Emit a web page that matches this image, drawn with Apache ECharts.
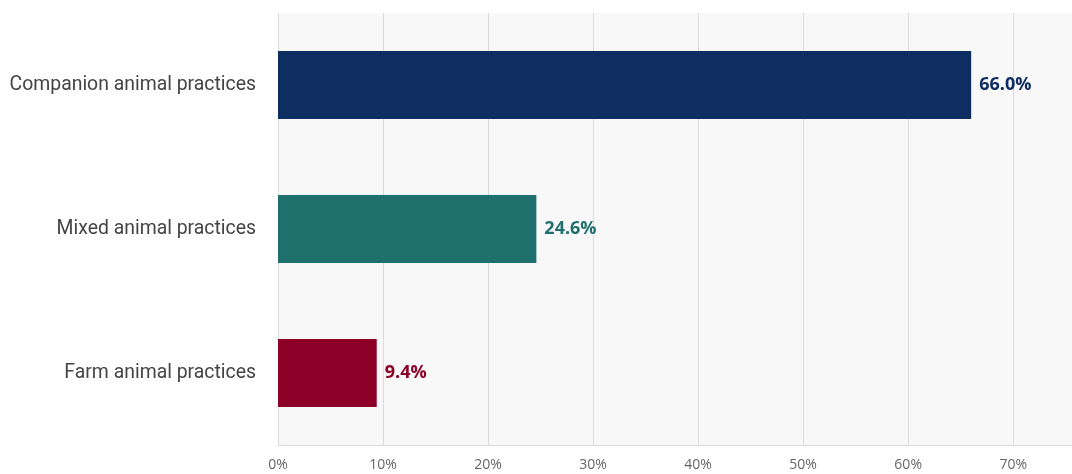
<!DOCTYPE html>
<html><head><meta charset="utf-8">
<script src="https://cdn.jsdelivr.net/npm/echarts@6/dist/echarts.min.js"></script>
<style>html,body{margin:0;padding:0;background:#fff;}#c{width:1072px;height:474px;}</style>
</head><body><div id="c"></div>
<script>
const categories = ['Companion animal practices', 'Mixed animal practices', 'Farm animal practices'];
const values = [66.0, 24.6, 9.4];
const barColors = ['#0e2d61', '#1f6f6d', '#8d0028'];
const tickValues = [0, 10, 20, 30, 40, 50, 60, 70];

const chart = echarts.init(document.getElementById('c'));
chart.setOption({
  animation: false,
  grid: { left: 278, right: 0, top: 13, bottom: 29, show: true, backgroundColor: '#f8f8f8', borderWidth: 0 },
  xAxis: {
    type: 'value', min: 0, max: 75.6, interval: 10,
    axisLine: { show: true, lineStyle: { color: '#d5d8e0', width: 1 } },
    axisTick: { show: false },
    splitLine: { show: true, lineStyle: { color: '#dcdcdc', width: 1 } },
    axisLabel: {
      color: '#666', fontSize: 14, fontFamily: 'Open Sans', margin: 13,
      showMaxLabel: false,
      formatter: v => tickValues.includes(v) ? v + '%' : ''
    }
  },
  yAxis: {
    type: 'category', data: categories, inverse: true,
    axisLine: { show: false }, axisTick: { show: false },
    axisLabel: { color: '#444', fontSize: 19.4, fontFamily: 'Roboto', margin: 22 }
  },
  series: [{
    type: 'bar', barWidth: 68,
    data: values.map((v, i) => ({ value: v, itemStyle: { color: barColors[i] },
      label: { color: barColors[i] } })),
    label: {
      show: true, position: 'right', distance: 8,
      fontSize: 18, fontWeight: 'bold', fontFamily: 'Open Sans',
      formatter: p => p.value.toFixed(1) + '%'
    }
  }]
});
</script></body></html>
